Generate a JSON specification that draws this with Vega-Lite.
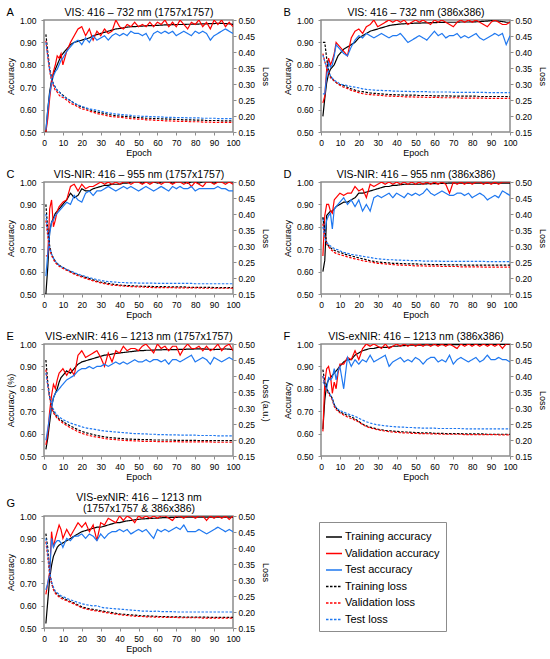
{
"$schema":"https://vega.github.io/schema/vega-lite/v6.json",
"background":"#ffffff",
"padding":{"left":5,"top":5,"right":5,"bottom":0},
"data":{"values":"p,e,Training accuracy,Validation accuracy,Test accuracy,Training loss,Validation loss,Test loss\nA,1,.50,.50,.51,.455,.435,.43\nA,2,.60,.56,.60,.40,.385,.385\nA,3,.68,.65,.67,.35,.34,.345\nA,4,.73,.72,.72,.32,.31,.315\nA,5,.76,.77,.75,.30,.295,.30\nA,6,.78,.80,.77,.29,.28,.29\nA,7,.80,.84,.78,.28,.275,.28\nA,8,.82,.83,.80,.275,.265,.275\nA,9,.84,.85,.82,.27,.26,.27\nA,10,.85,.80,.83,.265,.258,.262\nA,12,.87,.86,.86,.255,.25,.255\nA,14,.89,.90,.88,.248,.24,.248\nA,16,.90,.93,.90,.24,.235,.24\nA,18,.905,.96,.91,.233,.228,.235\nA,20,.91,.97,.89,.228,.222,.23\nA,22,.915,.93,.92,.224,.22,.226\nA,24,.92,.96,.90,.22,.215,.222\nA,26,.93,.91,.93,.216,.212,.22\nA,28,.935,.95,.91,.213,.208,.218\nA,30,.94,.93,.92,.21,.205,.215\nA,32,.945,.96,.93,.208,.203,.212\nA,34,.95,.94,.91,.205,.2,.21\nA,36,.955,.95,.93,.203,.198,.208\nA,38,.96,1.0,.94,.201,.197,.206\nA,40,.962,.97,.93,.2,.196,.205\nA,42,.965,.96,.94,.199,.195,.204\nA,44,.968,.98,.93,.198,.193,.203\nA,46,.97,.97,.95,.197,.192,.202\nA,48,.97,.99,.94,.196,.191,.2\nA,50,.972,.97,.94,.195,.19,.2\nA,52,.973,.98,.93,.194,.19,.199\nA,54,.974,.97,.94,.193,.188,.199\nA,56,.975,.99,.91,.193,.188,.198\nA,58,.975,.97,.94,.192,.187,.198\nA,60,.976,.99,.95,.192,.186,.197\nA,62,.977,.98,.94,.191,.186,.197\nA,64,.978,1.0,.95,.191,.185,.196\nA,66,.978,.97,.94,.19,.185,.196\nA,68,.979,.99,.95,.19,.184,.196\nA,70,.98,.97,.93,.189,.184,.195\nA,72,.98,1.0,.94,.189,.183,.195\nA,74,.98,.98,.95,.188,.183,.195\nA,76,.981,.96,.94,.188,.183,.194\nA,78,.981,.99,.93,.188,.182,.194\nA,80,.982,.98,.95,.187,.182,.194\nA,82,.982,1.0,.94,.187,.182,.194\nA,84,.983,.97,.95,.187,.181,.193\nA,86,.983,.99,.94,.186,.181,.193\nA,88,.984,.96,.91,.186,.181,.193\nA,90,.984,1.0,.93,.186,.18,.193\nA,92,.985,.98,.94,.186,.18,.192\nA,94,.985,1.0,.95,.185,.18,.192\nA,96,.984,.97,.96,.185,.18,.192\nA,98,.983,.99,.95,.185,.18,.192\nA,100,.98,.97,.94,.185,.18,.192\nB,1,.57,.63,.67,.43,.395,.39\nB,2,.65,.66,.67,.43,.37,.37\nB,3,.72,.78,.75,.38,.35,.355\nB,4,.76,.83,.81,.34,.335,.34\nB,5,.78,.80,.79,.325,.32,.325\nB,6,.79,.82,.80,.315,.315,.318\nB,7,.80,.85,.84,.31,.31,.312\nB,8,.82,.90,.89,.305,.305,.308\nB,9,.84,.89,.88,.30,.30,.305\nB,10,.85,.88,.87,.298,.296,.30\nB,12,.87,.86,.85,.295,.29,.297\nB,14,.88,.84,.84,.29,.286,.295\nB,16,.89,.92,.88,.285,.28,.292\nB,18,.90,.95,.91,.281,.277,.29\nB,20,.92,.96,.93,.278,.273,.288\nB,22,.93,.94,.92,.276,.27,.285\nB,24,.94,.97,.94,.274,.268,.283\nB,26,.95,.98,.93,.272,.267,.282\nB,28,.955,1.0,.92,.271,.266,.281\nB,30,.96,.97,.93,.27,.265,.28\nB,32,.965,.98,.94,.269,.264,.28\nB,34,.97,.99,.93,.268,.263,.279\nB,36,.975,1.0,.92,.267,.262,.279\nB,38,.978,.99,.93,.267,.262,.278\nB,40,.98,1.0,.93,.266,.261,.278\nB,42,.982,.99,.94,.266,.261,.277\nB,44,.983,1.0,.92,.265,.26,.277\nB,46,.984,.98,.90,.265,.26,.277\nB,48,.985,.99,.91,.265,.26,.276\nB,50,.986,1.0,.92,.265,.259,.276\nB,52,.986,.99,.93,.264,.259,.276\nB,54,.987,1.0,.92,.264,.259,.276\nB,56,.987,.99,.91,.264,.258,.276\nB,58,.988,.98,.93,.264,.258,.275\nB,60,.988,1.0,.95,.263,.258,.275\nB,62,.989,.99,.93,.263,.258,.275\nB,64,.989,1.0,.94,.263,.257,.275\nB,66,.99,.99,.92,.263,.257,.275\nB,68,.99,.98,.93,.263,.257,.275\nB,70,.99,.97,.93,.262,.257,.274\nB,72,.99,.99,.94,.262,.257,.274\nB,74,.991,1.0,.92,.262,.256,.274\nB,76,.991,.99,.93,.262,.256,.274\nB,78,.991,1.0,.92,.262,.256,.274\nB,80,.992,.99,.93,.262,.256,.274\nB,82,.992,1.0,.94,.262,.256,.274\nB,84,.993,.99,.92,.261,.256,.274\nB,86,.994,.98,.91,.261,.256,.274\nB,88,.995,.97,.92,.261,.255,.273\nB,90,.997,.99,.93,.261,.255,.273\nB,92,.996,1.0,.94,.261,.255,.273\nB,94,.995,.99,.93,.261,.255,.273\nB,96,.993,.98,.94,.261,.255,.273\nB,98,.99,.98,.89,.261,.255,.273\nB,100,.99,.99,.93,.26,.255,.273\nC,1,.50,.67,.58,.43,.38,.40\nC,2,.62,.67,.68,.35,.33,.34\nC,3,.78,.88,.77,.30,.29,.295\nC,4,.82,.92,.82,.275,.27,.275\nC,5,.84,.80,.83,.262,.258,.262\nC,6,.86,.83,.85,.252,.248,.252\nC,7,.87,.87,.86,.245,.242,.246\nC,8,.88,.89,.87,.24,.237,.24\nC,9,.89,.90,.88,.236,.233,.236\nC,10,.90,.91,.89,.233,.23,.233\nC,12,.92,.92,.91,.226,.224,.227\nC,14,.95,.98,.90,.22,.218,.222\nC,16,.93,.99,.94,.215,.212,.217\nC,18,.94,.96,.92,.21,.207,.212\nC,20,.97,.99,.91,.206,.203,.208\nC,22,.96,.97,.95,.202,.199,.205\nC,24,.96,.98,.96,.198,.195,.201\nC,26,.97,.98,.94,.194,.191,.198\nC,28,.975,.99,.96,.19,.188,.195\nC,30,.98,1.0,.96,.187,.185,.193\nC,32,.985,.99,.97,.185,.182,.19\nC,34,.985,1.0,.98,.183,.18,.189\nC,36,.99,.99,.97,.181,.178,.188\nC,38,.99,1.0,.96,.179,.177,.187\nC,40,.99,.99,.97,.178,.176,.186\nC,42,.995,1.0,.98,.177,.175,.186\nC,44,.995,1.0,.97,.176,.174,.185\nC,46,1.0,.99,.98,.176,.173,.185\nC,48,1.0,1.0,.97,.175,.173,.185\nC,50,1.0,1.0,.96,.175,.172,.184\nC,52,.995,.99,.97,.174,.172,.184\nC,54,1.0,1.0,.98,.174,.171,.184\nC,56,1.0,.99,.97,.174,.171,.184\nC,58,1.0,1.0,.96,.173,.17,.184\nC,60,.995,1.0,.97,.173,.17,.183\nC,62,1.0,.99,.98,.173,.17,.183\nC,64,1.0,1.0,.97,.173,.17,.183\nC,66,1.0,1.0,.96,.172,.17,.183\nC,68,.995,.99,.98,.172,.17,.183\nC,70,1.0,1.0,.97,.172,.169,.183\nC,72,1.0,1.0,.98,.172,.169,.183\nC,74,1.0,.99,.97,.172,.169,.183\nC,76,.995,1.0,.97,.171,.169,.183\nC,78,1.0,.98,.98,.171,.169,.183\nC,80,1.0,1.0,.96,.171,.169,.182\nC,82,.995,.99,.97,.171,.169,.182\nC,84,1.0,.98,.97,.171,.168,.182\nC,86,1.0,1.0,.97,.171,.168,.182\nC,88,1.0,1.0,.97,.171,.168,.182\nC,90,.995,.99,.97,.17,.168,.182\nC,92,1.0,1.0,.98,.17,.168,.182\nC,94,1.0,1.0,.97,.17,.168,.182\nC,96,1.0,.99,.97,.17,.168,.182\nC,98,1.0,1.0,.96,.17,.168,.182\nC,100,1.0,.99,.96,.17,.168,.182\nD,1,.60,.67,.84,.39,.37,.36\nD,2,.65,.85,.77,.35,.33,.325\nD,3,.85,.90,.83,.31,.305,.31\nD,4,.86,.90,.85,.30,.298,.305\nD,5,.87,.87,.86,.295,.29,.30\nD,6,.87,.86,.79,.29,.285,.296\nD,7,.88,.92,.88,.287,.28,.292\nD,8,.89,.93,.89,.284,.277,.29\nD,9,.895,.94,.90,.282,.275,.288\nD,10,.90,.95,.91,.28,.273,.285\nD,12,.91,.94,.93,.276,.27,.28\nD,14,.91,.95,.90,.272,.266,.277\nD,16,.92,.95,.92,.269,.263,.274\nD,18,.93,.98,.89,.266,.26,.272\nD,20,.95,.96,.92,.263,.257,.27\nD,22,.95,.97,.87,.26,.254,.268\nD,24,.955,.93,.90,.257,.252,.266\nD,26,.96,.99,.87,.254,.25,.264\nD,28,.965,.98,.93,.252,.248,.262\nD,30,.97,.99,.94,.25,.246,.26\nD,32,.975,1.0,.93,.249,.245,.259\nD,34,.98,.99,.94,.248,.244,.258\nD,36,.98,1.0,.95,.247,.243,.257\nD,38,.985,.99,.93,.246,.242,.257\nD,40,.985,1.0,.95,.246,.241,.256\nD,42,.988,.99,.94,.245,.24,.256\nD,44,.99,1.0,.93,.245,.24,.255\nD,46,.99,.99,.95,.244,.239,.255\nD,48,.99,1.0,.94,.244,.239,.254\nD,50,.99,.99,.95,.244,.238,.254\nD,52,.99,1.0,.94,.243,.238,.254\nD,54,.992,.99,.95,.243,.238,.253\nD,56,.992,1.0,.97,.243,.237,.253\nD,58,.993,.99,.95,.242,.237,.253\nD,60,.993,1.0,.94,.242,.237,.253\nD,62,.993,.99,.95,.242,.237,.253\nD,64,.994,1.0,.96,.242,.236,.252\nD,66,.994,.99,.95,.241,.236,.252\nD,68,.995,.95,.94,.241,.236,.252\nD,70,.995,1.0,.94,.241,.236,.252\nD,72,.995,.99,.95,.241,.236,.252\nD,74,.995,1.0,.95,.241,.235,.252\nD,76,.995,.99,.94,.24,.235,.252\nD,78,.995,1.0,.95,.24,.235,.252\nD,80,.995,.99,.93,.24,.235,.252\nD,82,.995,1.0,.94,.24,.235,.252\nD,84,.995,1.0,.95,.24,.235,.252\nD,86,.995,.99,.94,.24,.234,.252\nD,88,.995,1.0,.92,.24,.234,.251\nD,90,.995,.99,.93,.24,.234,.251\nD,92,.995,1.0,.94,.24,.234,.251\nD,94,.995,.99,.93,.24,.234,.251\nD,96,.995,1.0,.96,.24,.234,.251\nD,98,.995,1.0,.95,.24,.234,.251\nD,100,.995,1.0,.94,.24,.234,.251\nE,1,.53,.55,.57,.45,.42,.41\nE,2,.58,.60,.62,.38,.37,.37\nE,3,.65,.70,.68,.335,.33,.335\nE,4,.72,.77,.72,.305,.30,.31\nE,5,.76,.82,.76,.29,.285,.295\nE,6,.78,.80,.78,.28,.275,.285\nE,7,.80,.84,.79,.272,.268,.278\nE,8,.83,.87,.80,.266,.262,.272\nE,9,.85,.88,.81,.262,.257,.268\nE,10,.86,.89,.82,.258,.253,.264\nE,12,.88,.86,.84,.25,.245,.258\nE,14,.87,.89,.85,.244,.238,.253\nE,16,.89,.86,.86,.238,.232,.249\nE,18,.91,.95,.88,.232,.226,.245\nE,20,.92,.97,.89,.227,.221,.241\nE,22,.925,.94,.89,.223,.217,.238\nE,24,.93,.95,.90,.22,.214,.236\nE,26,.935,.96,.89,.217,.211,.234\nE,28,.94,.97,.90,.214,.209,.232\nE,30,.945,.94,.90,.212,.207,.23\nE,32,.95,.90,.91,.21,.205,.228\nE,34,.952,.96,.90,.208,.203,.227\nE,36,.955,.92,.91,.207,.202,.226\nE,38,.958,.97,.92,.206,.201,.225\nE,40,.96,.96,.91,.205,.2,.224\nE,42,.962,.99,.92,.204,.199,.223\nE,44,.964,.97,.91,.203,.198,.222\nE,46,.966,.98,.92,.203,.198,.221\nE,48,.968,.98,.93,.202,.197,.22\nE,50,.97,.97,.92,.202,.197,.22\nE,52,.97,.99,.92,.201,.196,.219\nE,54,.972,1.0,.93,.201,.196,.219\nE,56,.972,.98,.92,.201,.196,.218\nE,58,.973,.96,.93,.2,.196,.218\nE,60,.974,1.0,.93,.2,.195,.217\nE,62,.974,.98,.92,.2,.195,.217\nE,64,.975,.99,.93,.2,.195,.217\nE,66,.975,.97,.91,.2,.195,.216\nE,68,.975,.99,.93,.2,.195,.216\nE,70,.975,.99,.93,.199,.195,.216\nE,72,.976,.95,.92,.199,.194,.215\nE,74,.976,.98,.93,.199,.194,.215\nE,76,.977,1.0,.94,.199,.194,.215\nE,78,.977,.98,.95,.199,.194,.215\nE,80,.978,.98,.92,.199,.194,.215\nE,82,.978,.99,.93,.198,.194,.214\nE,84,.978,.97,.94,.198,.194,.214\nE,86,.977,.99,.93,.198,.194,.214\nE,88,.976,.97,.91,.198,.194,.214\nE,90,.975,.98,.94,.198,.193,.214\nE,92,.976,1.0,.93,.198,.193,.213\nE,94,.977,.97,.92,.198,.193,.213\nE,96,.978,.99,.93,.198,.193,.213\nE,98,.977,1.0,.94,.198,.193,.213\nE,100,.975,.97,.93,.198,.193,.213\nF,1,.62,.61,.83,.42,.40,.40\nF,2,.75,.83,.82,.38,.37,.375\nF,3,.82,.89,.80,.36,.355,.36\nF,4,.84,.90,.85,.35,.345,.35\nF,5,.85,.86,.84,.34,.335,.34\nF,6,.86,.78,.85,.33,.325,.33\nF,7,.87,.83,.89,.31,.305,.31\nF,8,.88,.80,.84,.30,.295,.302\nF,9,.89,.87,.88,.293,.29,.296\nF,10,.90,.91,.90,.288,.285,.292\nF,12,.92,.91,.80,.282,.278,.287\nF,14,.93,.94,.94,.277,.272,.282\nF,16,.93,.93,.90,.272,.267,.278\nF,18,.95,.97,.93,.266,.262,.274\nF,20,.96,.93,.91,.258,.256,.268\nF,22,.97,.98,.93,.25,.248,.262\nF,24,.975,1.0,.92,.244,.242,.257\nF,26,.98,.99,.95,.24,.238,.253\nF,28,.98,1.0,.92,.237,.235,.25\nF,30,.985,.99,.93,.234,.232,.247\nF,32,.985,.98,.94,.232,.23,.246\nF,34,.985,1.0,.95,.23,.228,.244\nF,36,.985,.98,.90,.229,.226,.243\nF,38,.99,.99,.92,.228,.225,.242\nF,40,.99,1.0,.93,.227,.224,.241\nF,42,.992,.99,.94,.226,.223,.24\nF,44,.993,1.0,.92,.225,.222,.24\nF,46,.994,.99,.93,.225,.222,.239\nF,48,.995,1.0,.92,.224,.221,.239\nF,50,.995,.99,.94,.223,.221,.238\nF,52,.995,1.0,.93,.223,.22,.238\nF,54,.996,.99,.91,.222,.22,.237\nF,56,.996,1.0,.93,.222,.22,.237\nF,58,.996,.99,.94,.222,.219,.237\nF,60,.997,1.0,.94,.221,.219,.237\nF,62,.997,.99,.92,.221,.219,.236\nF,64,.997,1.0,.93,.221,.218,.236\nF,66,.997,.99,.92,.22,.218,.236\nF,68,.997,1.0,.95,.22,.218,.236\nF,70,.997,.99,.91,.22,.218,.236\nF,72,.997,.98,.93,.22,.218,.236\nF,74,.998,1.0,.94,.22,.218,.236\nF,76,.998,.99,.93,.219,.217,.235\nF,78,.998,1.0,.92,.219,.217,.235\nF,80,.998,.99,.93,.219,.217,.235\nF,82,.998,1.0,.94,.219,.217,.235\nF,84,.998,.99,.92,.219,.217,.235\nF,86,.998,1.0,.93,.219,.217,.235\nF,88,.998,.99,.95,.218,.217,.235\nF,90,.998,1.0,.93,.218,.217,.235\nF,92,.998,.99,.93,.218,.217,.235\nF,94,.998,1.0,.94,.218,.216,.235\nF,96,.998,.98,.93,.218,.216,.235\nF,98,.998,1.0,.93,.218,.216,.235\nF,100,.998,1.0,.92,.218,.216,.235\nG,1,.52,.65,.67,.445,.42,.43\nG,2,.62,.70,.70,.40,.37,.38\nG,3,.72,.75,.74,.32,.32,.325\nG,4,.78,.93,.90,.29,.29,.295\nG,5,.82,.86,.86,.272,.27,.277\nG,6,.84,.90,.88,.262,.258,.265\nG,7,.86,.93,.89,.256,.252,.26\nG,8,.87,.96,.89,.251,.247,.255\nG,9,.875,.94,.88,.247,.243,.251\nG,10,.88,.90,.86,.244,.24,.248\nG,12,.89,.94,.90,.238,.235,.243\nG,14,.90,.91,.89,.233,.23,.238\nG,16,.91,.94,.91,.228,.225,.234\nG,18,.92,.97,.91,.222,.219,.23\nG,20,.93,.95,.92,.216,.213,.226\nG,22,.935,.97,.90,.213,.21,.223\nG,24,.94,.93,.92,.21,.207,.221\nG,26,.945,.96,.91,.208,.205,.219\nG,28,.95,.89,.89,.206,.203,.22\nG,30,.95,.97,.92,.204,.201,.215\nG,32,.955,.96,.90,.202,.199,.213\nG,34,.96,.99,.92,.2,.197,.212\nG,36,.965,.98,.93,.198,.195,.211\nG,38,.97,.97,.93,.196,.193,.21\nG,40,.97,1.0,.94,.194,.192,.209\nG,42,.975,.98,.93,.193,.19,.208\nG,44,.978,1.0,.94,.192,.189,.207\nG,46,.98,.99,.92,.191,.188,.206\nG,48,.983,.97,.93,.19,.187,.205\nG,50,.985,1.0,.94,.189,.186,.204\nG,52,.987,.99,.93,.188,.186,.203\nG,54,.988,1.0,.94,.188,.185,.203\nG,56,.989,.99,.92,.187,.185,.202\nG,58,.99,1.0,.90,.187,.184,.202\nG,60,.99,.99,.94,.186,.184,.203\nG,62,.992,1.0,.93,.186,.184,.201\nG,64,.993,1.0,.94,.186,.183,.201\nG,66,.993,.99,.93,.185,.183,.201\nG,68,.994,.98,.94,.185,.183,.201\nG,70,.994,1.0,.95,.185,.183,.2\nG,72,.995,1.0,.94,.185,.182,.2\nG,74,.995,.99,.96,.184,.182,.2\nG,76,.995,1.0,.93,.184,.182,.2\nG,78,.995,1.0,.93,.184,.182,.2\nG,80,.995,.99,.93,.184,.182,.2\nG,82,.995,1.0,.94,.184,.182,.2\nG,84,.995,1.0,.93,.184,.181,.2\nG,86,.995,.98,.92,.184,.181,.2\nG,88,.995,1.0,.93,.183,.181,.2\nG,90,.995,.99,.94,.183,.181,.2\nG,92,.995,1.0,.95,.183,.181,.2\nG,94,.995,.99,.94,.183,.181,.2\nG,96,.995,1.0,.93,.183,.181,.2\nG,98,.995,.985,.94,.183,.181,.2\nG,100,.995,1.0,.93,.183,.181,.2","format":{"type":"csv","parse":{"e":"number","Training accuracy":"number","Validation accuracy":"number","Test accuracy":"number","Training loss":"number","Validation loss":"number","Test loss":"number"}}},
"transform":[{"fold":["Training accuracy","Validation accuracy","Test accuracy","Training loss","Validation loss","Test loss"],"as":["s","v"]}],
"spacing":8,
"resolve":{"legend":{"color":"independent","strokeDash":"independent"}},
"vconcat":[
{"spacing":11,"hconcat":[
{"title":{"text":"A"},"transform":[{"filter":"datum.p=='A'"}],"width":189,"height":112,"resolve":{"scale":{"y":"independent"},"axis":{"x":"independent"}},"layer":[
{"transform":[{"filter":"indexof(datum.s,'accuracy')>=0"}],"mark":{"type":"line","strokeWidth":1.2,"clip":true},"encoding":{"x":{"field":"e","type":"quantitative","scale":{"domain":[0,100]},"axis":{"title":"Epoch","values":[0,10,20,30,40,50,60,70,80,90,100]}},"y":{"field":"v","type":"quantitative","scale":{"domain":[0.5,1]},"axis":{"title":"Accuracy","values":[0.5,0.6,0.7,0.8,0.9,1],"format":".2f"}},"color":{"field":"s","type":"nominal","scale":{"domain":["Training accuracy","Validation accuracy","Test accuracy","Training loss","Validation loss","Test loss"],"range":["#000000","#ff0000","#1f78f0","#000000","#ff0000","#1f78f0"]},"legend":null},"strokeDash":{"field":"s","type":"nominal","scale":{"domain":["Training accuracy","Validation accuracy","Test accuracy","Training loss","Validation loss","Test loss"],"range":[[1,0],[1,0],[1,0],[2.5,1.5],[2.5,1.5],[2.5,1.5]]},"legend":null}}},
{"transform":[{"filter":"indexof(datum.s,'loss')>=0"}],"mark":{"type":"line","strokeWidth":1.2,"clip":true},"encoding":{"x":{"field":"e","type":"quantitative","scale":{"domain":[0,100]},"axis":{"orient":"top","title":"VIS: 416 – 732 nm (1757x1757)"}},"y":{"field":"v","type":"quantitative","scale":{"domain":[0.15,0.5]},"axis":{"orient":"right","title":"Loss","values":[0.15,0.2,0.25,0.3,0.35,0.4,0.45,0.5],"format":".2f"}},"color":{"field":"s","type":"nominal","scale":{"domain":["Training accuracy","Validation accuracy","Test accuracy","Training loss","Validation loss","Test loss"],"range":["#000000","#ff0000","#1f78f0","#000000","#ff0000","#1f78f0"]},"legend":null},"strokeDash":{"field":"s","type":"nominal","scale":{"domain":["Training accuracy","Validation accuracy","Test accuracy","Training loss","Validation loss","Test loss"],"range":[[1,0],[1,0],[1,0],[2.5,1.5],[2.5,1.5],[2.5,1.5]]},"legend":null}}}]},
{"title":{"text":"B"},"transform":[{"filter":"datum.p=='B'"}],"width":189,"height":112,"resolve":{"scale":{"y":"independent"},"axis":{"x":"independent"}},"layer":[
{"transform":[{"filter":"indexof(datum.s,'accuracy')>=0"}],"mark":{"type":"line","strokeWidth":1.2,"clip":true},"encoding":{"x":{"field":"e","type":"quantitative","scale":{"domain":[0,100]},"axis":{"title":"Epoch","values":[0,10,20,30,40,50,60,70,80,90,100]}},"y":{"field":"v","type":"quantitative","scale":{"domain":[0.5,1]},"axis":{"title":"Accuracy","values":[0.5,0.6,0.7,0.8,0.9,1],"format":".2f"}},"color":{"field":"s","type":"nominal","scale":{"domain":["Training accuracy","Validation accuracy","Test accuracy","Training loss","Validation loss","Test loss"],"range":["#000000","#ff0000","#1f78f0","#000000","#ff0000","#1f78f0"]},"legend":null},"strokeDash":{"field":"s","type":"nominal","scale":{"domain":["Training accuracy","Validation accuracy","Test accuracy","Training loss","Validation loss","Test loss"],"range":[[1,0],[1,0],[1,0],[2.5,1.5],[2.5,1.5],[2.5,1.5]]},"legend":null}}},
{"transform":[{"filter":"indexof(datum.s,'loss')>=0"}],"mark":{"type":"line","strokeWidth":1.2,"clip":true},"encoding":{"x":{"field":"e","type":"quantitative","scale":{"domain":[0,100]},"axis":{"orient":"top","title":"VIS: 416 – 732 nm (386x386)"}},"y":{"field":"v","type":"quantitative","scale":{"domain":[0.15,0.5]},"axis":{"orient":"right","title":"Loss","values":[0.15,0.2,0.25,0.3,0.35,0.4,0.45,0.5],"format":".2f"}},"color":{"field":"s","type":"nominal","scale":{"domain":["Training accuracy","Validation accuracy","Test accuracy","Training loss","Validation loss","Test loss"],"range":["#000000","#ff0000","#1f78f0","#000000","#ff0000","#1f78f0"]},"legend":null},"strokeDash":{"field":"s","type":"nominal","scale":{"domain":["Training accuracy","Validation accuracy","Test accuracy","Training loss","Validation loss","Test loss"],"range":[[1,0],[1,0],[1,0],[2.5,1.5],[2.5,1.5],[2.5,1.5]]},"legend":null}}}]}
]},
{"spacing":11,"hconcat":[
{"title":{"text":"C"},"transform":[{"filter":"datum.p=='C'"}],"width":189,"height":112,"resolve":{"scale":{"y":"independent"},"axis":{"x":"independent"}},"layer":[
{"transform":[{"filter":"indexof(datum.s,'accuracy')>=0"}],"mark":{"type":"line","strokeWidth":1.2,"clip":true},"encoding":{"x":{"field":"e","type":"quantitative","scale":{"domain":[0,100]},"axis":{"title":"Epoch","values":[0,10,20,30,40,50,60,70,80,90,100]}},"y":{"field":"v","type":"quantitative","scale":{"domain":[0.5,1]},"axis":{"title":"Accuracy","values":[0.5,0.6,0.7,0.8,0.9,1],"format":".2f"}},"color":{"field":"s","type":"nominal","scale":{"domain":["Training accuracy","Validation accuracy","Test accuracy","Training loss","Validation loss","Test loss"],"range":["#000000","#ff0000","#1f78f0","#000000","#ff0000","#1f78f0"]},"legend":null},"strokeDash":{"field":"s","type":"nominal","scale":{"domain":["Training accuracy","Validation accuracy","Test accuracy","Training loss","Validation loss","Test loss"],"range":[[1,0],[1,0],[1,0],[2.5,1.5],[2.5,1.5],[2.5,1.5]]},"legend":null}}},
{"transform":[{"filter":"indexof(datum.s,'loss')>=0"}],"mark":{"type":"line","strokeWidth":1.2,"clip":true},"encoding":{"x":{"field":"e","type":"quantitative","scale":{"domain":[0,100]},"axis":{"orient":"top","title":"VIS-NIR: 416 – 955 nm (1757x1757)"}},"y":{"field":"v","type":"quantitative","scale":{"domain":[0.15,0.5]},"axis":{"orient":"right","title":"Loss","values":[0.15,0.2,0.25,0.3,0.35,0.4,0.45,0.5],"format":".2f"}},"color":{"field":"s","type":"nominal","scale":{"domain":["Training accuracy","Validation accuracy","Test accuracy","Training loss","Validation loss","Test loss"],"range":["#000000","#ff0000","#1f78f0","#000000","#ff0000","#1f78f0"]},"legend":null},"strokeDash":{"field":"s","type":"nominal","scale":{"domain":["Training accuracy","Validation accuracy","Test accuracy","Training loss","Validation loss","Test loss"],"range":[[1,0],[1,0],[1,0],[2.5,1.5],[2.5,1.5],[2.5,1.5]]},"legend":null}}}]},
{"title":{"text":"D"},"transform":[{"filter":"datum.p=='D'"}],"width":189,"height":112,"resolve":{"scale":{"y":"independent"},"axis":{"x":"independent"}},"layer":[
{"transform":[{"filter":"indexof(datum.s,'accuracy')>=0"}],"mark":{"type":"line","strokeWidth":1.2,"clip":true},"encoding":{"x":{"field":"e","type":"quantitative","scale":{"domain":[0,100]},"axis":{"title":"Epoch","values":[0,10,20,30,40,50,60,70,80,90,100]}},"y":{"field":"v","type":"quantitative","scale":{"domain":[0.5,1]},"axis":{"title":"Accuracy","values":[0.5,0.6,0.7,0.8,0.9,1],"format":".2f"}},"color":{"field":"s","type":"nominal","scale":{"domain":["Training accuracy","Validation accuracy","Test accuracy","Training loss","Validation loss","Test loss"],"range":["#000000","#ff0000","#1f78f0","#000000","#ff0000","#1f78f0"]},"legend":null},"strokeDash":{"field":"s","type":"nominal","scale":{"domain":["Training accuracy","Validation accuracy","Test accuracy","Training loss","Validation loss","Test loss"],"range":[[1,0],[1,0],[1,0],[2.5,1.5],[2.5,1.5],[2.5,1.5]]},"legend":null}}},
{"transform":[{"filter":"indexof(datum.s,'loss')>=0"}],"mark":{"type":"line","strokeWidth":1.2,"clip":true},"encoding":{"x":{"field":"e","type":"quantitative","scale":{"domain":[0,100]},"axis":{"orient":"top","title":"VIS-NIR: 416 – 955 nm (386x386)"}},"y":{"field":"v","type":"quantitative","scale":{"domain":[0.15,0.5]},"axis":{"orient":"right","title":"Loss","values":[0.15,0.2,0.25,0.3,0.35,0.4,0.45,0.5],"format":".2f"}},"color":{"field":"s","type":"nominal","scale":{"domain":["Training accuracy","Validation accuracy","Test accuracy","Training loss","Validation loss","Test loss"],"range":["#000000","#ff0000","#1f78f0","#000000","#ff0000","#1f78f0"]},"legend":null},"strokeDash":{"field":"s","type":"nominal","scale":{"domain":["Training accuracy","Validation accuracy","Test accuracy","Training loss","Validation loss","Test loss"],"range":[[1,0],[1,0],[1,0],[2.5,1.5],[2.5,1.5],[2.5,1.5]]},"legend":null}}}]}
]},
{"spacing":11,"hconcat":[
{"title":{"text":"E"},"transform":[{"filter":"datum.p=='E'"}],"width":189,"height":112,"resolve":{"scale":{"y":"independent"},"axis":{"x":"independent"}},"layer":[
{"transform":[{"filter":"indexof(datum.s,'accuracy')>=0"}],"mark":{"type":"line","strokeWidth":1.2,"clip":true},"encoding":{"x":{"field":"e","type":"quantitative","scale":{"domain":[0,100]},"axis":{"title":"Epoch","values":[0,10,20,30,40,50,60,70,80,90,100]}},"y":{"field":"v","type":"quantitative","scale":{"domain":[0.5,1]},"axis":{"title":"Accuracy (%)","values":[0.5,0.6,0.7,0.8,0.9,1],"format":".2f"}},"color":{"field":"s","type":"nominal","scale":{"domain":["Training accuracy","Validation accuracy","Test accuracy","Training loss","Validation loss","Test loss"],"range":["#000000","#ff0000","#1f78f0","#000000","#ff0000","#1f78f0"]},"legend":null},"strokeDash":{"field":"s","type":"nominal","scale":{"domain":["Training accuracy","Validation accuracy","Test accuracy","Training loss","Validation loss","Test loss"],"range":[[1,0],[1,0],[1,0],[2.5,1.5],[2.5,1.5],[2.5,1.5]]},"legend":null}}},
{"transform":[{"filter":"indexof(datum.s,'loss')>=0"}],"mark":{"type":"line","strokeWidth":1.2,"clip":true},"encoding":{"x":{"field":"e","type":"quantitative","scale":{"domain":[0,100]},"axis":{"orient":"top","title":"VIS-exNIR: 416 – 1213 nm (1757x1757)"}},"y":{"field":"v","type":"quantitative","scale":{"domain":[0.15,0.5]},"axis":{"orient":"right","title":"Loss (a.u.)","values":[0.15,0.2,0.25,0.3,0.35,0.4,0.45,0.5],"format":".2f"}},"color":{"field":"s","type":"nominal","scale":{"domain":["Training accuracy","Validation accuracy","Test accuracy","Training loss","Validation loss","Test loss"],"range":["#000000","#ff0000","#1f78f0","#000000","#ff0000","#1f78f0"]},"legend":null},"strokeDash":{"field":"s","type":"nominal","scale":{"domain":["Training accuracy","Validation accuracy","Test accuracy","Training loss","Validation loss","Test loss"],"range":[[1,0],[1,0],[1,0],[2.5,1.5],[2.5,1.5],[2.5,1.5]]},"legend":null}}}]},
{"title":{"text":"F"},"transform":[{"filter":"datum.p=='F'"}],"width":189,"height":112,"resolve":{"scale":{"y":"independent"},"axis":{"x":"independent"}},"layer":[
{"transform":[{"filter":"indexof(datum.s,'accuracy')>=0"}],"mark":{"type":"line","strokeWidth":1.2,"clip":true},"encoding":{"x":{"field":"e","type":"quantitative","scale":{"domain":[0,100]},"axis":{"title":"Epoch","values":[0,10,20,30,40,50,60,70,80,90,100]}},"y":{"field":"v","type":"quantitative","scale":{"domain":[0.5,1]},"axis":{"title":"Accuracy","values":[0.5,0.6,0.7,0.8,0.9,1],"format":".2f"}},"color":{"field":"s","type":"nominal","scale":{"domain":["Training accuracy","Validation accuracy","Test accuracy","Training loss","Validation loss","Test loss"],"range":["#000000","#ff0000","#1f78f0","#000000","#ff0000","#1f78f0"]},"legend":null},"strokeDash":{"field":"s","type":"nominal","scale":{"domain":["Training accuracy","Validation accuracy","Test accuracy","Training loss","Validation loss","Test loss"],"range":[[1,0],[1,0],[1,0],[2.5,1.5],[2.5,1.5],[2.5,1.5]]},"legend":null}}},
{"transform":[{"filter":"indexof(datum.s,'loss')>=0"}],"mark":{"type":"line","strokeWidth":1.2,"clip":true},"encoding":{"x":{"field":"e","type":"quantitative","scale":{"domain":[0,100]},"axis":{"orient":"top","title":"VIS-exNIR: 416 – 1213 nm (386x386)"}},"y":{"field":"v","type":"quantitative","scale":{"domain":[0.15,0.5]},"axis":{"orient":"right","title":"Loss","values":[0.15,0.2,0.25,0.3,0.35,0.4,0.45,0.5],"format":".2f"}},"color":{"field":"s","type":"nominal","scale":{"domain":["Training accuracy","Validation accuracy","Test accuracy","Training loss","Validation loss","Test loss"],"range":["#000000","#ff0000","#1f78f0","#000000","#ff0000","#1f78f0"]},"legend":null},"strokeDash":{"field":"s","type":"nominal","scale":{"domain":["Training accuracy","Validation accuracy","Test accuracy","Training loss","Validation loss","Test loss"],"range":[[1,0],[1,0],[1,0],[2.5,1.5],[2.5,1.5],[2.5,1.5]]},"legend":null}}}]}
]},
{"spacing":11,"hconcat":[
{"title":{"text":"G","offset":-16},"transform":[{"filter":"datum.p=='G'"}],"width":189,"height":112,"resolve":{"scale":{"y":"independent"},"axis":{"x":"independent"}},"layer":[
{"transform":[{"filter":"indexof(datum.s,'accuracy')>=0"}],"mark":{"type":"line","strokeWidth":1.2,"clip":true},"encoding":{"x":{"field":"e","type":"quantitative","scale":{"domain":[0,100]},"axis":{"title":"Epoch","values":[0,10,20,30,40,50,60,70,80,90,100]}},"y":{"field":"v","type":"quantitative","scale":{"domain":[0.5,1]},"axis":{"title":"Accuracy","values":[0.5,0.6,0.7,0.8,0.9,1],"format":".2f"}},"color":{"field":"s","type":"nominal","scale":{"domain":["Training accuracy","Validation accuracy","Test accuracy","Training loss","Validation loss","Test loss"],"range":["#000000","#ff0000","#1f78f0","#000000","#ff0000","#1f78f0"]},"legend":{"orient":"none","legendX":275,"legendY":6,"title":null}},"strokeDash":{"field":"s","type":"nominal","scale":{"domain":["Training accuracy","Validation accuracy","Test accuracy","Training loss","Validation loss","Test loss"],"range":[[1,0],[1,0],[1,0],[2.5,1.5],[2.5,1.5],[2.5,1.5]]},"legend":{"orient":"none","legendX":275,"legendY":6,"title":null}}}},
{"transform":[{"filter":"indexof(datum.s,'loss')>=0"}],"mark":{"type":"line","strokeWidth":1.2,"clip":true},"encoding":{"x":{"field":"e","type":"quantitative","scale":{"domain":[0,100]},"axis":{"orient":"top","title":["VIS-exNIR: 416 – 1213 nm","(1757x1757 & 386x386)"]}},"y":{"field":"v","type":"quantitative","scale":{"domain":[0.15,0.5]},"axis":{"orient":"right","title":"Loss","values":[0.15,0.2,0.25,0.3,0.35,0.4,0.45,0.5],"format":".2f"}},"color":{"field":"s","type":"nominal","scale":{"domain":["Training accuracy","Validation accuracy","Test accuracy","Training loss","Validation loss","Test loss"],"range":["#000000","#ff0000","#1f78f0","#000000","#ff0000","#1f78f0"]},"legend":{"orient":"none","legendX":275,"legendY":6,"title":null}},"strokeDash":{"field":"s","type":"nominal","scale":{"domain":["Training accuracy","Validation accuracy","Test accuracy","Training loss","Validation loss","Test loss"],"range":[[1,0],[1,0],[1,0],[2.5,1.5],[2.5,1.5],[2.5,1.5]]},"legend":{"orient":"none","legendX":275,"legendY":6,"title":null}}}}]}
]}
],
"config":{
"font":"Liberation Sans",
"view":{"stroke":"#8c8c8c","strokeWidth":1.5},
"axis":{"grid":false,"domain":false,"labelOverlap":false,"labelFlush":false,"labelFont":"Liberation Sans","titleFont":"Liberation Sans","labelFontSize":8.5,"titleFontSize":9,"titleFontWeight":"normal","labelColor":"#000000","titleColor":"#000000","tickColor":"#8c8c8c"},
"axisLeft":{"tickSize":3,"labelPadding":5,"titlePadding":4},
"axisRight":{"tickSize":3,"labelPadding":2,"titlePadding":6},
"axisBottom":{"tickSize":3,"labelPadding":3,"titlePadding":2},
"axisTop":{"labels":false,"ticks":false,"titleFontSize":10.5,"titlePadding":3,"titleLineHeight":10.5},
"title":{"anchor":"start","frame":"bounds","fontSize":11,"fontWeight":"normal","color":"#000000","font":"Liberation Sans","offset":-10.5},
"legend":{"strokeColor":"#8c8c8c","fillColor":"#ffffff","padding":6,"symbolType":"stroke","symbolStrokeWidth":1.5,"symbolSize":256,"labelFontSize":11,"labelFont":"Liberation Sans","labelColor":"#000000","rowPadding":2.5,"labelLimit":200,"labelOffset":2}
}
}
